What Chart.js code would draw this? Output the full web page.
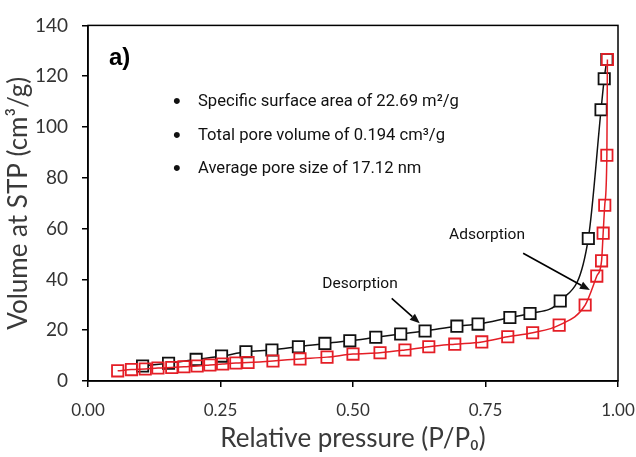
<!DOCTYPE html>
<html lang="en">
<head>
<meta charset="UTF-8">
<title>N2 isotherm</title>
<script src="https://cdn.jsdelivr.net/npm/chart.js"></script>
<style>
    body { margin: 0; background: #fff; }
    .chart-box { width: 636px; height: 457px; }
</style>
</head>
<body>
<div class="chart-box"><canvas id="isotherm"></canvas></div>
<script>
// adsorption branch (red)
const adsP = [0.056, 0.082, 0.108, 0.132, 0.158, 0.181, 0.206, 0.230, 0.254, 0.279, 0.302, 0.349, 0.400, 0.451,
              0.500, 0.551, 0.598, 0.643, 0.692, 0.743, 0.792, 0.839, 0.889, 0.938, 0.960, 0.969, 0.972, 0.975,
              0.979, 0.980];
const adsV = [4.0, 4.5, 4.7, 5.1, 5.3, 5.6, 5.9, 6.3, 6.7, 7.1, 7.3, 7.9, 8.7, 9.4,
              10.6, 11.1, 12.2, 13.5, 14.5, 15.4, 17.4, 19.0, 22.0, 29.9, 41.3, 47.3, 58.2, 69.2,
              88.9, 126.6];
// desorption branch (black)
const desP = [0.103, 0.152, 0.204, 0.252, 0.298, 0.347, 0.397, 0.447, 0.494, 0.543, 0.590, 0.636, 0.696,
              0.736, 0.796, 0.834, 0.891, 0.944, 0.968, 0.974, 0.979];
const desV = [5.9, 7.0, 8.5, 9.8, 11.5, 12.2, 13.5, 14.8, 15.8, 17.2, 18.5, 19.7, 21.6,
              22.4, 25.0, 26.6, 31.5, 56.1, 106.8, 119.0, 126.6];

const infoLines = [
    'Specific surface area of 22.69 m\u00B2/g',
    'Total pore volume of 0.194 cm\u00B3/g',
    'Average pore size of 17.12 nm'
];

const pares = (xs, ys) => xs.map((v, i) => ({ x: v, y: ys[i] }));

function flecha(ctx, x1, y1, x2, y2) {
    const ang = Math.atan2(y2 - y1, x2 - x1);
    const L = 10, W = 4;
    ctx.beginPath();
    ctx.moveTo(x1, y1);
    ctx.lineTo(x2 - L * Math.cos(ang), y2 - L * Math.sin(ang));
    ctx.stroke();
    ctx.beginPath();
    ctx.moveTo(x2, y2);
    ctx.lineTo(x2 - L * Math.cos(ang) + W * Math.sin(ang), y2 - L * Math.sin(ang) - W * Math.cos(ang));
    ctx.lineTo(x2 - L * Math.cos(ang) - W * Math.sin(ang), y2 - L * Math.sin(ang) + W * Math.cos(ang));
    ctx.closePath();
    ctx.fill();
}

const notas = {
    id: 'notas',
    beforeDatasetsDraw(chart) {
        const { ctx, chartArea } = chart;
        ctx.save();
        ctx.strokeStyle = '#000';
        ctx.lineWidth = 1.5;
        ctx.strokeRect(chartArea.left, chartArea.top, chartArea.width, chartArea.height);
        ctx.restore();
    },
    afterDatasetsDraw(chart) {
        const { ctx } = chart;
        const x = chart.scales.x, y = chart.scales.y;
        ctx.save();
        ctx.fillStyle = '#000';
        ctx.font = 'bold 24px "Liberation Sans", Arial, sans-serif';
        ctx.textBaseline = 'middle';
        ctx.fillText('a)', 109, 58);

        ctx.fillStyle = '#111';
        infoLines.forEach((t, i) => {
            const yy = 102 + i * 33.5;
            ctx.font = '22px "Liberation Sans", sans-serif';
            ctx.fillText('\u2022', 173, yy);
            ctx.font = '16.6px Roboto, sans-serif';
            ctx.fillText(t, 198, yy);
        });

        ctx.font = '15.5px Roboto, sans-serif';
        ctx.textAlign = 'center';
        ctx.fillText('Desorption', 360, 284);
        ctx.fillText('Adsorption', 487, 235);

        ctx.strokeStyle = '#000';
        ctx.lineWidth = 1.6;
        flecha(ctx, x.getPixelForValue(0.573), y.getPixelForValue(32.5),
                    x.getPixelForValue(0.626), y.getPixelForValue(22.7));
        flecha(ctx, x.getPixelForValue(0.821), y.getPixelForValue(50.3),
                    x.getPixelForValue(0.947), y.getPixelForValue(35.8));
        ctx.restore();
    }
};

new Chart(document.getElementById('isotherm'), {
    type: 'line',
    data: {
        datasets: [{
            label: 'Adsorption',
            data: pares(adsP, adsV),
            borderColor: '#e41e26',
            borderWidth: 1.5,
            pointStyle: 'rect',
            pointRadius: 8,
            pointBorderWidth: 1.8,
            pointBorderColor: '#e41e26',
            pointBackgroundColor: 'rgba(255,255,255,0)',
            cubicInterpolationMode: 'monotone',
            order: 0
        }, {
            label: 'Desorption',
            data: pares(desP, desV),
            borderColor: '#111',
            borderWidth: 1.5,
            pointStyle: 'rect',
            pointRadius: 8,
            pointBorderWidth: 1.8,
            pointBorderColor: '#111',
            pointBackgroundColor: '#fff',
            cubicInterpolationMode: 'monotone',
            order: 1
        }]
    },
    options: {
        responsive: true,
        maintainAspectRatio: false,
        animation: false,
        layout: { padding: { top: 25, right: 18, left: 0, bottom: 0 } },
        plugins: { legend: { display: false }, tooltip: { enabled: false } },
        scales: {
            x: {
                type: 'linear',
                min: 0, max: 1,
                afterFit: s => { s.height = 76; s.paddingRight = 0; s.paddingLeft = 0; },
                grid: { drawOnChartArea: false, tickLength: 6, color: '#000', lineWidth: 1.5 },
                border: { color: '#000', width: 1.5 },
                ticks: {
                    stepSize: 0.25,
                    padding: 13,
                    color: '#333',
                    font: { family: 'Lato', size: 17 },
                    callback: v => v.toFixed(2)
                },
                title: {
                    display: true,
                    text: 'Relative pressure (P/P\u2080)',
                    color: '#3a3a3a',
                    font: { family: 'Lato', size: 26 },
                    padding: { top: 0, bottom: 3 }
                }
            },
            y: {
                min: 0, max: 140,
                afterFit: s => { s.width = 88; },
                grid: { drawOnChartArea: false, tickLength: 6, color: '#000', lineWidth: 1.5 },
                border: { color: '#000', width: 1.5 },
                ticks: {
                    stepSize: 20,
                    padding: 14,
                    color: '#333',
                    font: { family: 'Lato', size: 19 }
                },
                title: {
                    display: true,
                    text: 'Volume at STP (cm\u00B3/g)',
                    color: '#3a3a3a',
                    font: { family: 'Lato', size: 26 },
                    padding: { top: 3, bottom: 0 }
                }
            }
        }
    },
    plugins: [notas]
});
</script>
</body>
</html>
